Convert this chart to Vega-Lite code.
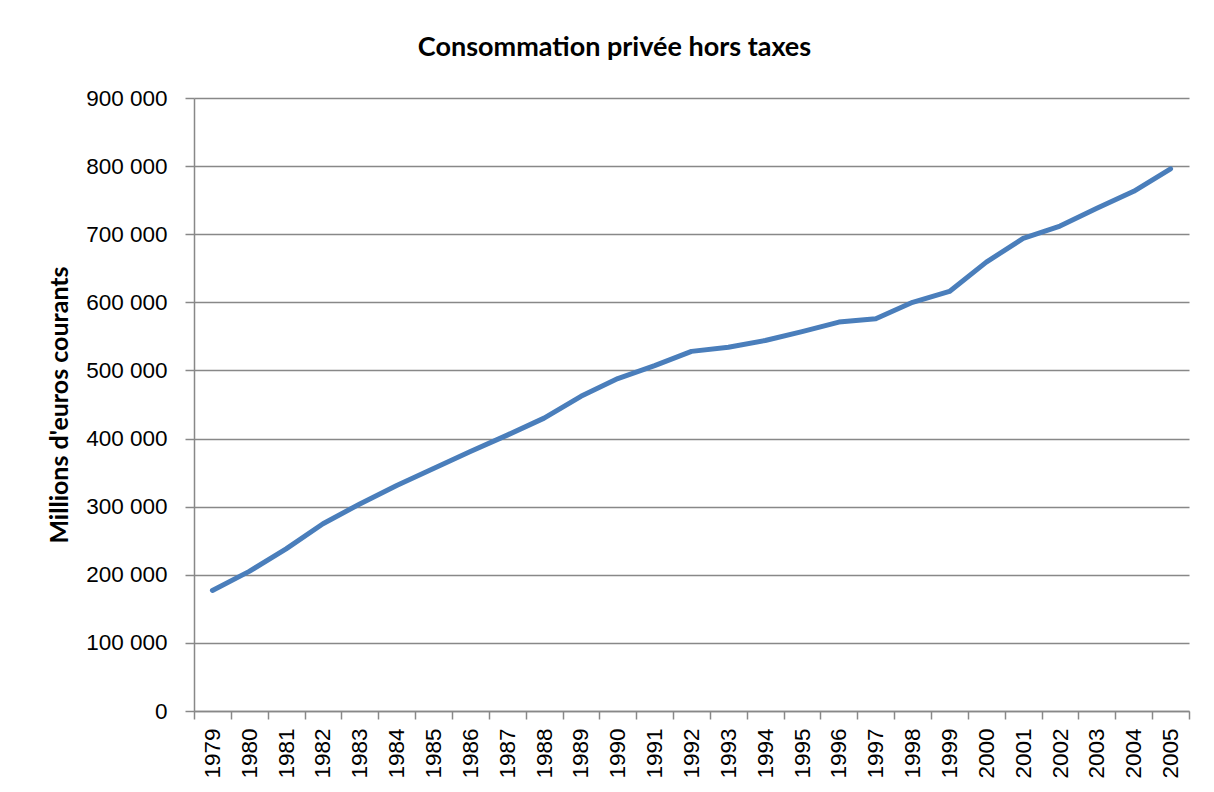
{
  "$schema": "https://vega.github.io/schema/vega-lite/v6.json",
  "autosize": {"type": "none"},
  "width": 995,
  "height": 613,
  "padding": {"left": 194, "top": 98, "right": 25, "bottom": 81},
  "background": "white",
  "title": {
    "text": "Consommation privée hors taxes",
    "font": "Lato",
    "fontSize": 27,
    "fontWeight": "bold",
    "color": "#000000",
    "anchor": "middle",
    "frame": "group",
    "dx": -77,
    "offset": 25
  },
  "data": {
    "values": [
      {"annee": "1979", "valeur": 177000},
      {"annee": "1980", "valeur": 205000},
      {"annee": "1981", "valeur": 238000},
      {"annee": "1982", "valeur": 275000},
      {"annee": "1983", "valeur": 304000},
      {"annee": "1984", "valeur": 331000},
      {"annee": "1985", "valeur": 356000},
      {"annee": "1986", "valeur": 381000},
      {"annee": "1987", "valeur": 405000},
      {"annee": "1988", "valeur": 430000},
      {"annee": "1989", "valeur": 462000},
      {"annee": "1990", "valeur": 488000},
      {"annee": "1991", "valeur": 507000},
      {"annee": "1992", "valeur": 528000},
      {"annee": "1993", "valeur": 534000},
      {"annee": "1994", "valeur": 544000},
      {"annee": "1995", "valeur": 557000},
      {"annee": "1996", "valeur": 571000},
      {"annee": "1997", "valeur": 576000},
      {"annee": "1998", "valeur": 600000},
      {"annee": "1999", "valeur": 616000},
      {"annee": "2000", "valeur": 659000},
      {"annee": "2001", "valeur": 694000},
      {"annee": "2002", "valeur": 712000},
      {"annee": "2003", "valeur": 738000},
      {"annee": "2004", "valeur": 763000},
      {"annee": "2005", "valeur": 796000}
    ]
  },
  "mark": {"type": "line", "color": "#4a7ebb", "strokeWidth": 5, "strokeCap": "round", "strokeJoin": "round"},
  "encoding": {
    "x": {
      "field": "annee",
      "type": "ordinal",
      "bandPosition": 0.5,
      "scale": {"type": "band", "paddingInner": 0, "paddingOuter": 0},
      "axis": {
        "title": null,
        "labelAngle": -90,
        "labelAlign": "right",
        "labelBaseline": "middle",
        "labelFont": "Liberation Sans",
        "labelFontSize": 22.5,
        "labelColor": "#000000",
        "labelPadding": 9,
        "tickBand": "extent",
        "tickSize": 8,
        "tickColor": "#888888",
        "tickWidth": 1.5,
        "domainColor": "#888888",
        "domainWidth": 1.5,
        "grid": false
      }
    },
    "y": {
      "field": "valeur",
      "type": "quantitative",
      "scale": {"domain": [0, 900000], "nice": false},
      "axis": {
        "title": "Millions d'euros courants",
        "titleFont": "Lato",
        "titleFontSize": 25,
        "titleFontWeight": "bold",
        "titleColor": "#000000",
        "titlePadding": 13,
        "values": [0, 100000, 200000, 300000, 400000, 500000, 600000, 700000, 800000, 900000],
        "labelExpr": "replace(format(datum.value, ','), ',', ' ')",
        "labelFont": "Liberation Sans",
        "labelFontSize": 22.5,
        "labelColor": "#000000",
        "labelPadding": 18,
        "tickSize": 9,
        "tickColor": "#888888",
        "tickWidth": 1.5,
        "domainColor": "#888888",
        "domainWidth": 1.5,
        "grid": true,
        "gridColor": "#888888",
        "gridWidth": 1.5
      }
    }
  },
  "config": {
    "view": {"stroke": null}
  }
}
